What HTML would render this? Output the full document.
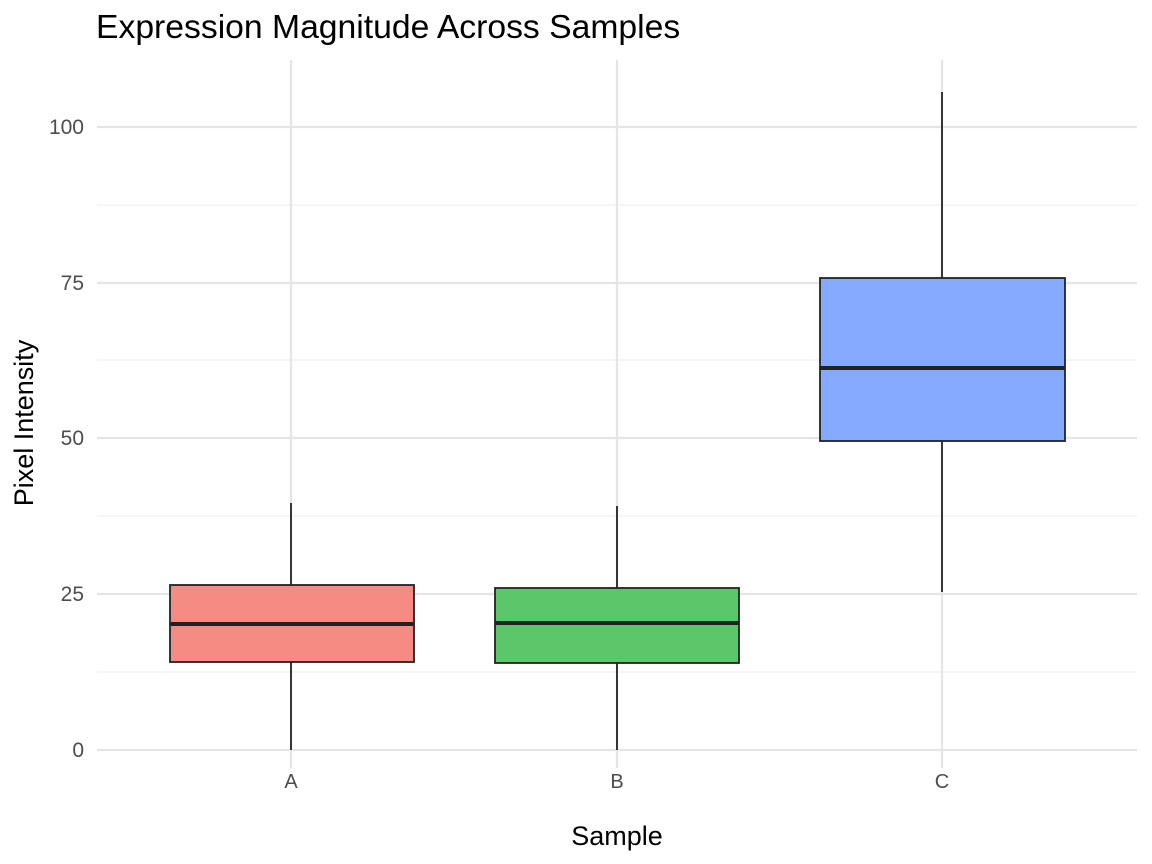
<!DOCTYPE html>
<html><head><meta charset="utf-8"><style>
html,body{margin:0;padding:0;background:#fff;}
svg{display:block;font-family:"Liberation Sans",Arial,sans-serif;}
</style></head><body>
<svg width="1152" height="864" viewBox="0 0 1152 864" xmlns="http://www.w3.org/2000/svg">
<rect width="1152" height="864" fill="#fff"/>
<g stroke="#ebebeb" stroke-width="1.1">
<line x1="97" x2="1137" y1="672" y2="672"/>
<line x1="97" x2="1137" y1="516" y2="516"/>
<line x1="97" x2="1137" y1="360" y2="360"/>
<line x1="97" x2="1137" y1="205" y2="205"/>
</g>
<g stroke="#e5e5e5" stroke-width="2.2">
<line x1="97" x2="1137" y1="750" y2="750"/>
<line x1="97" x2="1137" y1="594" y2="594"/>
<line x1="97" x2="1137" y1="438" y2="438"/>
<line x1="97" x2="1137" y1="283" y2="283"/>
<line x1="97" x2="1137" y1="127" y2="127"/>
<line x1="291" x2="291" y1="60" y2="768"/>
<line x1="617" x2="617" y1="60" y2="768"/>
<line x1="942" x2="942" y1="60" y2="768"/>
</g>
<g stroke="#222" stroke-width="1.8">
<line x1="291" x2="291" y1="503" y2="750"/>
<line x1="617" x2="617" y1="506" y2="750"/>
<line x1="942" x2="942" y1="92" y2="592"/>
</g>
<g stroke="#222" stroke-width="1.8">
<rect x="170" y="585" width="244" height="77" fill="#f68b84"/>
<rect x="495" y="588" width="244" height="75" fill="#5cc76a"/>
<rect x="820" y="278" width="245" height="163" fill="#84aaff"/>
</g>
<g stroke="#222" stroke-width="4">
<line x1="170" x2="414" y1="624" y2="624"/>
<line x1="495" x2="739" y1="623" y2="623"/>
<line x1="820" x2="1065" y1="368" y2="368"/>
</g>
<g fill="#4d4d4d" font-size="21" text-anchor="end">
<text x="84" y="757">0</text>
<text x="84" y="601">25</text>
<text x="84" y="445">50</text>
<text x="84" y="290">75</text>
<text x="84" y="134">100</text>
</g>
<g fill="#4d4d4d" font-size="20" text-anchor="middle">
<text x="291" y="788">A</text>
<text x="617" y="788">B</text>
<text x="942" y="788">C</text>
</g>
<text x="617" y="845" font-size="27" text-anchor="middle" fill="#000">Sample</text>
<text transform="translate(33,423) rotate(-90)" font-size="27" text-anchor="middle" fill="#000">Pixel Intensity</text>
<text x="96" y="38" font-size="33.7" fill="#000">Expression Magnitude Across Samples</text>
</svg>
</body></html>
